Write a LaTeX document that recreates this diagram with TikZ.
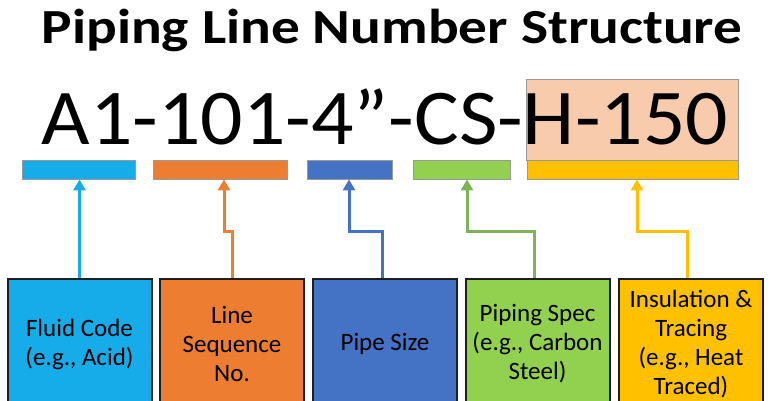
\documentclass[tikz,border=0pt]{standalone}
\usepackage{fontspec}
\setmainfont{Carlito}
\newfontfamily\titlefont[FakeStretch=1.17]{Carlito}
\newfontfamily\codefont[FakeStretch=1.06]{Carlito}
\newfontfamily\boxfont{Carlito}
\usetikzlibrary{arrows.meta}
\definecolor{cA}{HTML}{16ACEA}
\definecolor{cB}{HTML}{ED7D31}
\definecolor{cC}{HTML}{4472C4}
\definecolor{cD}{HTML}{92D050}
\definecolor{cE}{HTML}{FFC000}
\definecolor{cDa}{HTML}{7DB356}
\definecolor{peach}{HTML}{F8CBAD}
\definecolor{edge}{HTML}{1E1E1E}
\begin{document}
\begin{tikzpicture}[x=1pt,y=-1pt,
  bar/.style={draw=gray!80,line width=0.8pt,inner sep=0pt,minimum height=19pt},
  catbox/.style={draw=edge,line width=2pt,inner sep=0pt,minimum width=144pt,minimum height=130pt,
    align=center,font=\boxfont\fontsize{25}{29}\selectfont,text=black},
  arr/.style={line width=3pt,-{Triangle[width=12pt,length=11pt]}}]
\useasboundingbox (0,0) rectangle (770,400);
\fill[white] (0,0) rectangle (770,400);
\clip (0,0) rectangle (770,400);
\node[anchor=base,font=\titlefont\bfseries\fontsize{49}{49}\selectfont] (title) at (392,43) {Piping Line Number Structure};
\node[draw=gray!80,line width=0.8pt,fill=peach,inner sep=0pt,minimum width=212pt,minimum height=81pt] (hl) at (632,119.5) {};
\node[anchor=base,font=\codefont\fontsize{79}{79}\selectfont] (code) at (385,144) {A1-101-4”-CS-H-150};
% bars
\node[bar,fill=cA,minimum width=113pt] (bA) at (78.5,169.5) {};
\node[bar,fill=cB,minimum width=134pt] (bB) at (220,169.5) {};
\node[bar,fill=cC,minimum width=85pt] (bC) at (349.5,169.5) {};
\node[bar,fill=cD,minimum width=97pt] (bD) at (461.5,169.5) {};
\node[bar,fill=cE,minimum width=211pt] (bE) at (632.5,169.5) {};
% boxes
\node[catbox,fill=cA] (xA) at (79.5,344) {Fluid Code\\(e.g., Acid)};
\node[catbox,fill=cB] (xB) at (232,344) {Line\\Sequence\\No.};
\node[catbox,fill=cC] (xC) at (385,344) {Pipe Size};
\node[catbox,fill=cD] (xD) at (537.5,344) {Piping Spec\\(e.g., Carbon\\Steel)};
\node[catbox,fill=cE] (xE) at (691,344) {Insulation \&\\Tracing\\(e.g., Heat\\Traced)};
\coordinate (jog) at (0,231);
% connectors
\draw[arr,cA] (xA.north) -- (bA.south -| xA.north);
\draw[arr,cB] (xB.north) -- (xB.north |- jog) -| ([xshift=4pt]bB.south);
\draw[arr,cC] ([xshift=-3pt]xC.north) -- ([xshift=-3pt]xC.north |- jog) -| ([xshift=-0.5pt]bC.south);
\draw[arr,cDa] ([xshift=-3.5pt]xD.north) -- ([xshift=-3.5pt]xD.north |- jog) -| ([xshift=5.5pt]bD.south);
\draw[arr,cE] ([xshift=-4pt]xE.north) -- ([xshift=-4pt]xE.north |- jog) -| ([xshift=4.5pt]bE.south);
\end{tikzpicture}
\end{document}
